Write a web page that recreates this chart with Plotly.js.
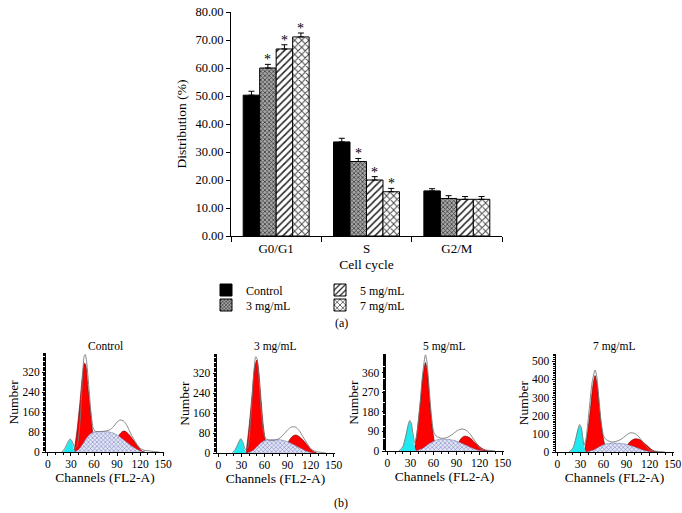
<!DOCTYPE html>
<html>
<head>
<meta charset="utf-8">
<script src="https://cdn.plot.ly/plotly-3.0.1.min.js"></script>
<style>html,body{margin:0;padding:0;background:#fff;}#chart{width:682px;height:513px;}</style>
</head>
<body>
<div id="chart"></div>
<script>
// ---------- Panel (a): bar chart data ----------
const phases = ['G0/G1', 'S', 'G2/M'];
const groupNames = ['Control', '3 mg/mL', '5 mg/mL', '7 mg/mL'];
const controlVals = [50.3, 33.6, 16.1];
const mg3Vals = [60.0, 26.6, 13.4];
const mg5Vals = [66.8, 20.0, 13.1];
const mg7Vals = [71.1, 15.8, 13.1];
const controlErr = [1.4, 1.3, 0.8];
const mg3Err = [1.3, 1.1, 1.0];
const mg5Err = [1.5, 1.2, 1.0];
const mg7Err = [1.4, 1.2, 1.0];
const noErr = [0, 0, 0];
const mg3Sig = [true, true, false];
const mg5Sig = [true, true, false];
const mg7Sig = [true, true, false];
const yTicks = [0, 10, 20, 30, 40, 50, 60, 70, 80];

// ---------- Panel (b): histogram data (channel, count) ----------
const panelTitles = ['Control', '3 mg/mL', '5 mg/mL', '7 mg/mL'];
const xTicksHist = [0, 30, 60, 90, 120, 150];
// Control
const c_apoX = [20, 24, 27, 29, 31, 33, 35];
const c_apoY = [0, 20, 40, 50, 40, 15, 0];
const c_g1X = [34, 38, 42, 45, 47.5, 49, 52, 55, 58, 61, 65];
const c_g1Y = [0, 90, 210, 310, 355, 350, 260, 170, 85, 35, 0];
const c_sX = [35, 40, 45, 50, 55, 60, 65, 70, 75, 80, 85, 90, 95, 100, 105, 110, 115, 120, 125];
const c_sY = [0, 10, 30, 55, 72, 80, 82, 82, 82, 80, 76, 68, 57, 45, 33, 22, 12, 4, 0];
const c_g2X = [82, 87, 92, 96, 99, 102, 106, 110, 114, 118, 122, 126];
const c_g2Y = [0, 30, 65, 80, 84, 80, 68, 52, 35, 18, 5, 0];
const c_envX = [18, 22, 26, 29, 32, 35, 38, 42, 45, 47, 48.5, 50, 53, 56, 59, 62, 66, 70, 75, 80, 85, 90, 94, 98, 102, 106, 110, 115, 120, 125, 130, 135, 140, 145];
const c_envY = [0, 15, 40, 52, 40, 15, 25, 130, 300, 380, 390, 370, 270, 160, 95, 82, 82, 82, 84, 88, 100, 120, 128, 125, 110, 85, 60, 35, 15, 7, 5, 3, 1, 0];
// 3 mg/mL
const m3_apoX = [20, 24, 27, 29, 31, 33, 36];
const m3_apoY = [0, 25, 45, 55, 45, 20, 0];
const m3_g1X = [36, 40, 44, 47, 50, 52, 55, 58, 61, 64, 68];
const m3_g1Y = [0, 110, 240, 340, 372, 340, 230, 120, 50, 15, 0];
const m3_sX = [38, 45, 50, 55, 60, 65, 70, 75, 80, 85, 90, 95, 100, 105, 110, 115, 120, 124];
const m3_sY = [0, 10, 25, 40, 50, 53, 54, 54, 53, 50, 45, 38, 30, 22, 14, 7, 2, 0];
const m3_g2X = [84, 88, 92, 96, 100, 104, 108, 112, 116, 120, 124, 128];
const m3_g2Y = [0, 25, 50, 66, 72, 68, 58, 45, 30, 15, 5, 0];
const m3_envX = [18, 22, 26, 29, 32, 35, 38, 42, 46, 48.5, 50, 52, 55, 58, 61, 65, 70, 75, 80, 85, 90, 95, 100, 105, 110, 115, 120, 125, 130, 135, 140];
const m3_envY = [0, 15, 40, 57, 42, 15, 20, 140, 320, 385, 380, 330, 200, 100, 60, 52, 50, 52, 60, 75, 92, 104, 104, 90, 65, 40, 18, 8, 4, 2, 0];
// 5 mg/mL
const m5_apoX = [17, 21, 24, 27, 29, 31, 33, 35, 37];
const m5_apoY = [0, 25, 70, 115, 135, 120, 70, 20, 0];
const m5_g1X = [35, 39, 43, 46, 49.5, 52, 55, 58, 61, 64, 68];
const m5_g1Y = [0, 100, 230, 340, 406, 360, 230, 120, 45, 12, 0];
const m5_sX = [37, 45, 50, 55, 60, 65, 70, 75, 80, 85, 90, 95, 100, 105, 110, 115, 120, 125];
const m5_sY = [0, 10, 22, 35, 45, 52, 54, 54, 53, 50, 45, 38, 30, 22, 14, 7, 2, 0];
const m5_g2X = [88, 92, 96, 100, 104, 108, 112, 116, 120, 124, 128, 132];
const m5_g2Y = [0, 35, 58, 68, 66, 58, 45, 32, 20, 10, 3, 0];
const m5_envX = [15, 20, 24, 27, 29, 31, 33, 35.5, 38, 42, 46, 49.5, 51, 54, 57, 60, 63, 67, 71, 76, 81, 86, 91, 97, 102, 107, 112, 117, 121, 126, 132, 140];
const m5_envY = [0, 20, 70, 120, 140, 128, 85, 38, 70, 200, 360, 441, 420, 300, 170, 90, 70, 62, 58, 60, 68, 80, 94, 101, 96, 80, 55, 30, 10, 5, 3, 0];
// 7 mg/mL
const m7_apoX = [17, 21, 24, 27, 29, 31, 33, 35, 37];
const m7_apoY = [0, 25, 75, 125, 145, 130, 75, 20, 0];
const m7_g1X = [35, 39, 43, 46, 49, 52, 55, 58, 61, 64, 68];
const m7_g1Y = [0, 100, 240, 360, 421, 360, 230, 120, 50, 12, 0];
const m7_sX = [38, 45, 50, 55, 60, 65, 70, 75, 80, 85, 90, 95, 100, 105, 110, 115, 120, 125];
const m7_sY = [0, 8, 18, 30, 40, 46, 49, 49, 48, 46, 42, 36, 29, 21, 13, 7, 2, 0];
const m7_g2X = [86, 90, 94, 98, 102, 106, 110, 114, 118, 122, 126, 131];
const m7_g2Y = [0, 30, 55, 68, 73, 70, 60, 45, 30, 15, 5, 0];
const m7_envX = [15, 20, 24, 27, 29, 31, 33, 34.5, 37, 41, 45, 49, 51, 54, 57, 60, 63, 67, 71, 76, 81, 86, 91, 95, 100, 105, 110, 115, 120, 126, 132, 140];
const m7_envY = [0, 20, 75, 130, 152, 135, 80, 37, 70, 220, 380, 452, 420, 290, 160, 90, 70, 60, 55, 58, 66, 80, 97, 106, 103, 88, 62, 35, 10, 5, 3, 0];

const yTicksHist = [[0, 80, 160, 240, 320], [0, 80, 160, 240, 320], [0, 90, 180, 270, 360], [0, 100, 200, 300, 400, 500]];
const yMaxHist = [396, 396, 445, 540];

// ---------- build ----------
const W = 682, H = 513;
const FONT = 'Liberation Serif';
const FS = 12;       // legend, labels
const FST = 13.5;    // axis titles
const FSH = 11.5;    // histogram ticks / panel titles
const px = v => v / W;
const py = v => 1 - v / H;

const bargap = 0.27;
const seriesVals = [controlVals, mg3Vals, mg5Vals, mg7Vals];
const seriesErr = [controlErr, mg3Err, mg5Err, mg7Err];
const seriesSig = [null, mg3Sig, mg5Sig, mg7Sig];
const markers = [
  {color: '#000000', line: {color: '#000', width: 1}},
  {color: '#8a8a8a', line: {color: '#000', width: 1}, pattern: {shape: 'x', fgcolor: '#3a3a3a', bgcolor: '#a8a8a8', size: 3, solidity: 0.45}},
  {color: '#ffffff', line: {color: '#000', width: 1}, pattern: {shape: '/', fgcolor: '#222', bgcolor: '#ffffff', size: 5, solidity: 0.3}},
  {color: '#ffffff', line: {color: '#000', width: 1}, pattern: {shape: 'x', fgcolor: '#444', bgcolor: '#ffffff', size: 5, solidity: 0.35}}
];
const legendIds = ['legend', 'legend2', 'legend3', 'legend4'];
const legendPos = [[206, 290], [206, 305], [320, 290], [320, 305]];

const traces = [];
groupNames.forEach((name, i) => {
  traces.push({
    type: 'bar', name: name, x: phases, y: seriesVals[i],
    xaxis: 'x', yaxis: 'y', marker: markers[i], legend: legendIds[i],
    error_y: {type: 'data', symmetric: false, array: seriesErr[i], arrayminus: noErr, color: '#000', thickness: 1, width: 3},
    hoverinfo: 'skip'
  });
});

const annotations = [];
const bw = (1 - bargap) / groupNames.length;
seriesSig.forEach((sig, i) => {
  if (!sig) return;
  sig.forEach((s, j) => {
    if (!s) return;
    annotations.push({
      xref: 'x', yref: 'y', x: j - (1 - bargap) / 2 + (i + 0.5) * bw,
      y: seriesVals[i][j] + seriesErr[i][j], yanchor: 'bottom', yshift: -5,
      text: '*', showarrow: false, font: {family: FONT, size: 14, color: '#000000'}
    });
  });
});

const histData = [
  [c_apoX, c_apoY, c_g1X, c_g1Y, c_sX, c_sY, c_g2X, c_g2Y, c_envX, c_envY],
  [m3_apoX, m3_apoY, m3_g1X, m3_g1Y, m3_sX, m3_sY, m3_g2X, m3_g2Y, m3_envX, m3_envY],
  [m5_apoX, m5_apoY, m5_g1X, m5_g1Y, m5_sX, m5_sY, m5_g2X, m5_g2Y, m5_envX, m5_envY],
  [m7_apoX, m7_apoY, m7_g1X, m7_g1Y, m7_sX, m7_sY, m7_g2X, m7_g2Y, m7_envX, m7_envY]
];
const xDomPx = [[46, 164], [216.5, 334.5], [385.5, 503.5], [555.5, 673.5]];
const yDomPx = [[353, 452], [354, 453], [354, 451], [354, 452]];

const layout = {
  width: W, height: H, margin: {l: 0, r: 0, t: 0, b: 0},
  paper_bgcolor: '#fff', plot_bgcolor: 'rgba(0,0,0,0)',
  font: {family: FONT, size: FS, color: '#000'},
  barmode: 'group', bargap: bargap, bargroupgap: 0,
  showlegend: true,
  xaxis: {domain: [px(231), px(502)], anchor: 'y', type: 'category', showline: true, linecolor: '#000', linewidth: 1,
    ticks: 'outside', tickson: 'boundaries', ticklen: 5, tickcolor: '#000', showgrid: false, zeroline: false,
    tickfont: {family: FONT, size: 13}, title: {text: 'Cell cycle', font: {family: FONT, size: FST}, standoff: 4}},
  yaxis: {domain: [py(236), py(12)], anchor: 'x', range: [0, 80], tickvals: yTicks, tickformat: '.2f',
    showline: true, linecolor: '#000', linewidth: 1, ticks: 'outside', ticklen: 4, tickcolor: '#000',
    showgrid: false, zeroline: false, tickfont: {family: FONT, size: 12.5},
    title: {text: 'Distribution (%)', font: {family: FONT, size: FST}, standoff: 5}},
  annotations: annotations
};

legendIds.forEach((id, i) => {
  layout[id] = {x: px(legendPos[i][0]), y: py(legendPos[i][1]), xanchor: 'left', yanchor: 'middle', orientation: 'v',
    font: {family: FONT, size: FS, color: '#000'}, itemwidth: 30, tracegroupgap: 0, bgcolor: 'rgba(0,0,0,0)', borderwidth: 0};
});

annotations.push({xref: 'paper', yref: 'paper', x: px(341), y: py(323), text: '(a)', showarrow: false,
  font: {family: FONT, size: FS}, xanchor: 'center', yanchor: 'middle'});
annotations.push({xref: 'paper', yref: 'paper', x: px(341), y: py(503), text: '(b)', showarrow: false,
  font: {family: FONT, size: FS}, xanchor: 'center', yanchor: 'middle'});

histData.forEach((d, k) => {
  const n = k + 2;
  const xa = 'x' + n, ya = 'y' + n;
  const base = {xaxis: xa, yaxis: ya, mode: 'lines', showlegend: false, hoverinfo: 'skip',
    line: {shape: 'spline', smoothing: 0.7, width: 0.6}};
  traces.push(Object.assign({}, base, {x: d[2], y: d[3], fill: 'tozeroy', fillcolor: '#ff0000', line: Object.assign({}, base.line, {color: '#5a0000'})}));
  traces.push(Object.assign({}, base, {x: d[6], y: d[7], fill: 'tozeroy', fillcolor: '#ff0000', line: Object.assign({}, base.line, {color: '#5a0000'})}));
  traces.push(Object.assign({}, base, {x: d[0], y: d[1], fill: 'tozeroy', fillcolor: '#1ee8f0', line: Object.assign({}, base.line, {color: '#1ee8f0'})}));
  traces.push(Object.assign({}, base, {x: d[4], y: d[5], fill: 'tozeroy', fillcolor: '#dfe2f3',
    fillpattern: {shape: 'x', fgcolor: '#7d86c4', bgcolor: '#e4e6f5', size: 3, solidity: 0.35},
    line: Object.assign({}, base.line, {color: '#6a70a8', width: 0.5})}));
  traces.push(Object.assign({}, base, {x: d[8], y: d[9], line: Object.assign({}, base.line, {color: '#7a7a7a', width: 0.9})}));

  layout['xaxis' + n] = {domain: [px(xDomPx[k][0]), px(xDomPx[k][1])], anchor: ya, range: [-2.5, 151],
    tickvals: xTicksHist, showline: true, linecolor: '#000', linewidth: 1, ticks: 'outside', ticklen: 3, tickcolor: '#000',
    ticklabelstandoff: -2,
    minor: {ticks: 'outside', ticklen: 2, dtick: 10, tickcolor: '#000'},
    showgrid: false, zeroline: false, tickfont: {family: FONT, size: FSH},
    title: {text: 'Channels (FL2-A)', font: {family: FONT, size: FST}, standoff: 3}};
  layout['yaxis' + n] = {domain: [py(yDomPx[k][1]), py(yDomPx[k][0])], anchor: xa, range: [0, yMaxHist[k]],
    tickvals: yTicksHist[k], showline: true, linecolor: '#000', linewidth: 1, ticks: 'outside', ticklen: 3, tickcolor: '#000',
    minor: {ticks: 'outside', ticklen: 2, nticks: 20, tickcolor: '#000'},
    showgrid: false, zeroline: false, tickfont: {family: FONT, size: FSH},
    title: {text: 'Number', font: {family: FONT, size: FST}, standoff: 0}};
  annotations.push({xref: 'paper', yref: 'paper', x: px((xDomPx[k][0] + xDomPx[k][1]) / 2), y: py(346),
    text: panelTitles[k], showarrow: false, font: {family: FONT, size: FSH}, xanchor: 'center', yanchor: 'middle'});
});

Plotly.newPlot('chart', traces, layout, {staticPlot: true, displayModeBar: false});
</script>
</body>
</html>
